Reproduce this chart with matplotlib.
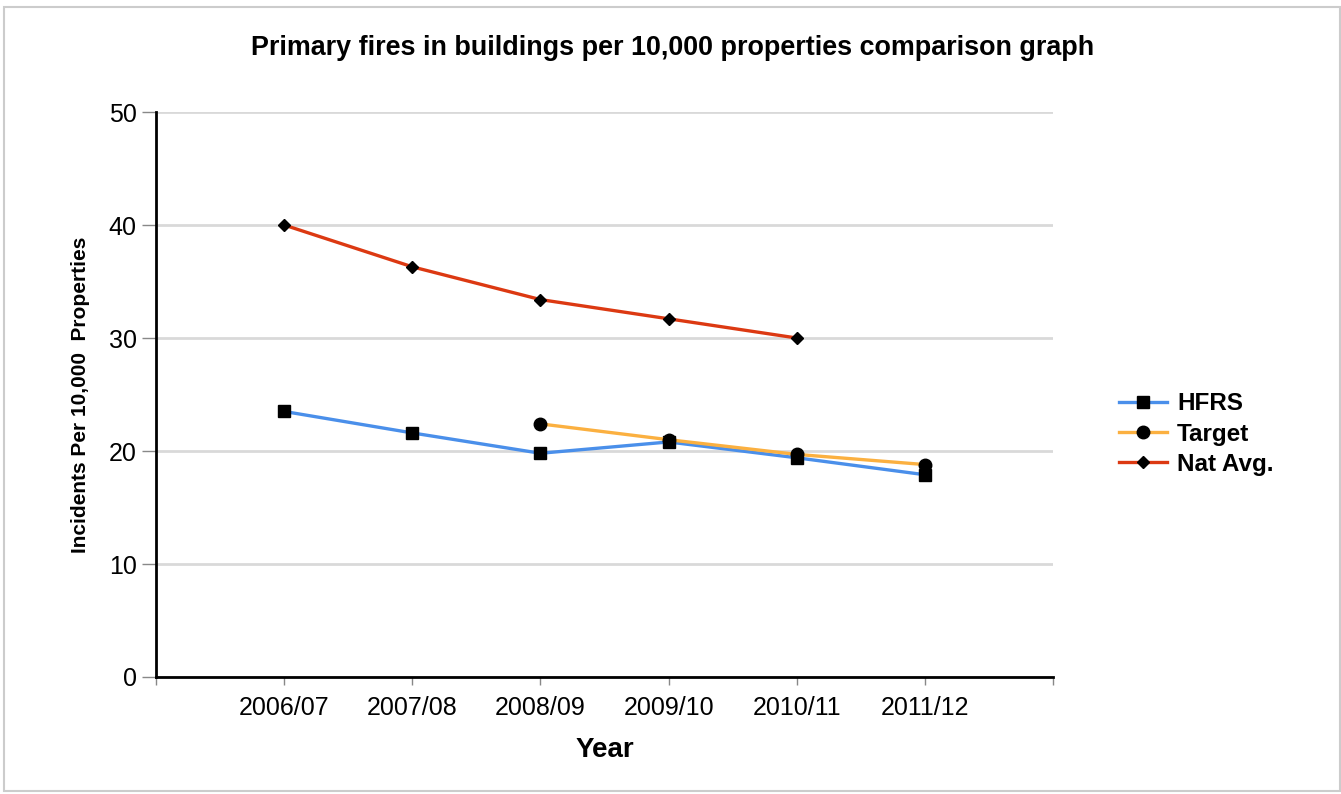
import numpy as np
import matplotlib.pyplot as plt
from matplotlib.patches import Rectangle

plt.rcParams['font.family'] = ['Liberation Sans', 'DejaVu Sans']

years = ["2006/07", "2007/08", "2008/09", "2009/10", "2010/11", "2011/12"]
hfrs = [23.5, 21.6, 19.8, 20.8, 19.4, 17.9]
target = [np.nan, np.nan, 22.4, 21.0, 19.7, 18.8]
nat_avg = [40.0, 36.3, 33.4, 31.7, 30.0, np.nan]

fig = plt.figure(figsize=(13.41, 7.94), dpi=100)
fig.patches.append(Rectangle((0.003, 0.004), 0.996, 0.987, transform=fig.transFigure,
                             fill=False, edgecolor='#cccccc', linewidth=1.5))
ax = fig.add_axes([156 / 1341, 1 - 677 / 794, (1053 - 156) / 1341, (677 - 112) / 794])

x = np.arange(len(years))
ax.plot(x, hfrs, color='#4a8fea', lw=2.4, marker='s', ms=9, mfc='black', mec='black',
        label='HFRS', zorder=3)
ax.plot(x, target, color='#fbb040', lw=2.4, marker='o', ms=9, mfc='black', mec='black',
        label='Target', zorder=4)
ax.plot(x, nat_avg, color='#dc3912', lw=2.4, marker='D', ms=6.5, mfc='black', mec='black',
        label='Nat Avg.', zorder=3)

ax.set_xlim(-1, len(years))
ax.set_ylim(0, 50)
ax.set_yticks([0, 10, 20, 30, 40, 50])
ax.set_xticks(np.arange(-1, len(years) + 1))
ax.set_xticklabels([''] + years + [''])
ax.tick_params(axis='y', labelsize=18, length=10, width=1, color='#888888', direction='out', pad=4)
ax.tick_params(axis='x', labelsize=18, length=6, width=1, color='#888888', direction='out', pad=8)
ax.grid(axis='y', color='#d9d9d9', lw=2)
ax.set_axisbelow(True)
for s in ['top', 'right']:
    ax.spines[s].set_visible(False)
ax.spines['left'].set_linewidth(2)
ax.spines['bottom'].set_linewidth(2)

ax.set_xlabel("Year", fontsize=20, fontweight='bold', labelpad=12)
ax.set_ylabel("Incidents Per 10,000  Properties", fontsize=15, fontweight='bold', labelpad=13)
fig.text(673 / 1341, 1 - 48 / 794,
         "Primary fires in buildings per 10,000 properties comparison graph",
         ha='center', va='center', fontsize=19.4, fontweight='bold')

fig.legend(loc='center left', bbox_to_anchor=(1097 / 1341, 1 - 434 / 794), frameon=False,
           prop={'size': 17.5, 'weight': 'bold'}, handlelength=2.0, labelspacing=0.3,
           handletextpad=0.4)

fig.savefig('out.png', dpi=100)
